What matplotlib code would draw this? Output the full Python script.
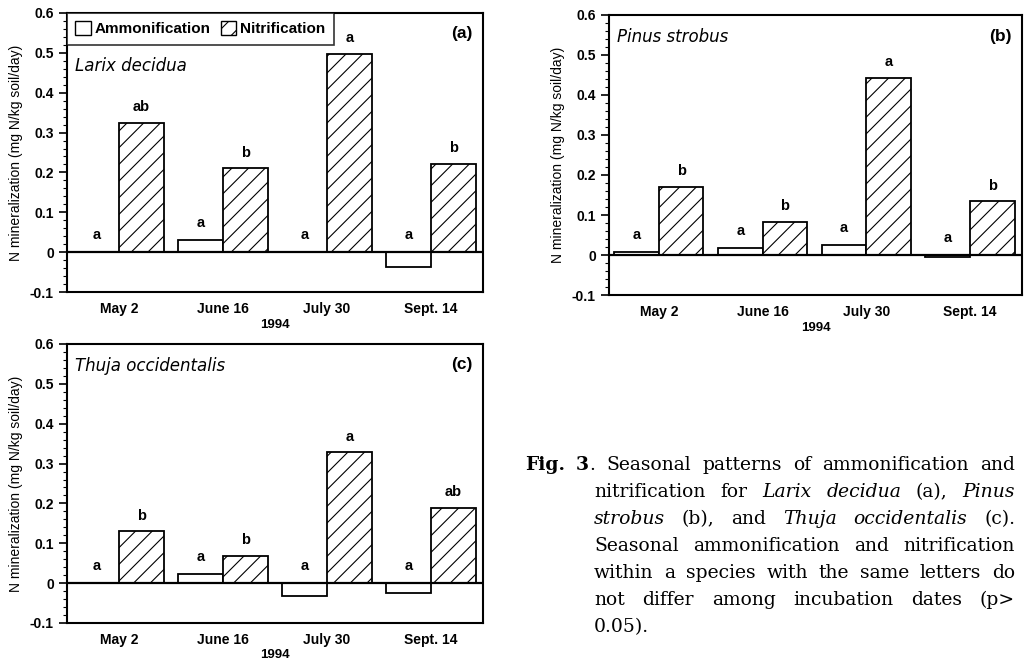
# Seasonal N mineralization (ammonification / nitrification) for three tree species
import matplotlib
matplotlib.use('Agg')
import matplotlib.pyplot as plt
import numpy as np
from matplotlib.patches import Patch
from matplotlib.ticker import MultipleLocator, FuncFormatter

# data
dates = ['May 2', 'June 16', 'July 30', 'Sept. 14']

larix_amm = [0.0, 0.030, 0.0, -0.038]
larix_nit = [0.325, 0.210, 0.498, 0.222]
larix_amm_let = ['a', 'a', 'a', 'a']
larix_nit_let = ['ab', 'b', 'a', 'b']

pinus_amm = [0.008, 0.017, 0.026, -0.005]
pinus_nit = [0.170, 0.082, 0.443, 0.134]
pinus_amm_let = ['a', 'a', 'a', 'a']
pinus_nit_let = ['b', 'b', 'a', 'b']

thuja_amm = [0.0, 0.024, -0.032, -0.025]
thuja_nit = [0.130, 0.069, 0.328, 0.188]
thuja_amm_let = ['a', 'a', 'a', 'a']
thuja_nit_let = ['b', 'b', 'a', 'ab']

species = ['Larix decidua', 'Pinus strobus', 'Thuja occidentalis']
panel_tags = ['(a)', '(b)', '(c)']

plt.rcParams['font.family'] = ['Liberation Sans', 'DejaVu Sans']
plt.rcParams['hatch.linewidth'] = 0.8

W, H = 1024, 666
fig = plt.figure(figsize=(W / 100, H / 100), dpi=100)


def box(x0, y0, x1, y1):
    # pixel box -> figure fraction rect
    return [x0 / W, 1 - y1 / H, (x1 - x0) / W, (y1 - y0) / H]


ax_a = fig.add_axes(box(67, 13, 483, 292))
ax_b = fig.add_axes(box(609, 15, 1022, 295))
ax_c = fig.add_axes(box(67, 344, 483, 623))

bw = 0.43
x = np.arange(len(dates))


def panel(ax, amm, nit, amm_let, nit_let, name, tag, xmin, name_y):
    ax.bar(x - bw / 2, amm, bw, color='white', edgecolor='black', lw=1.3, zorder=2)
    ax.bar(x + bw / 2, nit, bw, color='white', edgecolor='black', hatch='//', lw=1.3, zorder=2)
    ax.axhline(0, color='black', lw=1.6, zorder=3)
    for i in range(len(dates)):
        ax.text(x[i] - bw / 2, max(amm[i], 0) + 0.025, amm_let[i], ha='center', va='bottom',
                fontsize=10.5, fontweight='bold')
        ax.text(x[i] + bw / 2, max(nit[i], 0) + 0.022, nit_let[i], ha='center', va='bottom',
                fontsize=10.5, fontweight='bold')
    ax.set_xlim(xmin, 3.5)
    ax.set_ylim(-0.1, 0.6)
    ax.set_xticks(x)
    ax.set_xticklabels(dates, fontweight='bold', fontsize=10)
    ax.tick_params(axis='x', length=0, pad=7)
    ax.yaxis.set_major_locator(MultipleLocator(0.1))
    ax.yaxis.set_minor_locator(MultipleLocator(0.02))
    ax.yaxis.set_major_formatter(FuncFormatter(lambda v, p: '0' if abs(v) < 1e-9 else f'{v:.1f}'))
    ax.tick_params(axis='y', which='major', direction='out', length=6, width=1.2, labelsize=10)
    ax.tick_params(axis='y', which='minor', direction='out', length=3, width=0.8)
    for lab in ax.get_yticklabels():
        lab.set_fontweight('bold')
    for s in ax.spines.values():
        s.set_linewidth(1.5)
    ax.set_xlabel('1994', fontweight='bold', fontsize=9.5, labelpad=2)
    ax.set_ylabel('N mineralization (mg N/kg soil/day)', fontsize=10, labelpad=5)
    ax.text(0.02, name_y, name, transform=ax.transAxes, fontstyle='italic',
            fontsize=12, family=['DejaVu Sans'], va='center')
    ax.text(0.975, 0.925, tag, transform=ax.transAxes, fontsize=12.5,
            fontweight='bold', ha='right', va='center')


panel(ax_a, larix_amm, larix_nit, larix_amm_let, larix_nit_let, species[0], panel_tags[0], -0.5, 0.81)
panel(ax_b, pinus_amm, pinus_nit, pinus_amm_let, pinus_nit_let, species[1], panel_tags[1], -0.48, 0.92)
panel(ax_c, thuja_amm, thuja_nit, thuja_amm_let, thuja_nit_let, species[2], panel_tags[2], -0.5, 0.92)

handles = [Patch(facecolor='white', edgecolor='black', lw=1.0),
           Patch(facecolor='white', edgecolor='black', hatch='//', lw=1.0)]
leg = ax_a.legend(handles, ['Ammonification', 'Nitrification'], loc='upper left',
                  bbox_to_anchor=(0, 1), borderaxespad=0, ncol=2, fancybox=False,
                  handlelength=1.0, handleheight=1.0, handletextpad=0.25,
                  columnspacing=0.7, borderpad=0.55,
                  prop={'weight': 'bold', 'size': 11})
leg.get_frame().set_edgecolor('black')
leg.get_frame().set_linewidth(1.2)

# caption, justified by hand
cap_lines = [
    [[('Fig.', 'b')], [('3', 'b'), ('.', 'n')], [('Seasonal', 'n')], [('patterns', 'n')],
     [('of', 'n')], [('ammonification', 'n')], [('and', 'n')]],
    [[('nitrification', 'n')], [('for', 'n')], [('Larix', 'i')], [('decidua', 'i')],
     [('(a),', 'n')], [('Pinus', 'i')]],
    [[('strobus', 'i')], [('(b),', 'n')], [('and', 'n')], [('Thuja', 'i')],
     [('occidentalis', 'i')], [('(c).', 'n')]],
    [[('Seasonal', 'n')], [('ammonification', 'n')], [('and', 'n')], [('nitrification', 'n')]],
    [[('within', 'n')], [('a', 'n')], [('species', 'n')], [('with', 'n')], [('the', 'n')],
     [('same', 'n')], [('letters', 'n')], [('do', 'n')]],
    [[('not', 'n')], [('differ', 'n')], [('among', 'n')], [('incubation', 'n')],
     [('dates', 'n')], [('(p>', 'n')]],
    [[('0.05).', 'n')]],
]
cap_x0 = [525, 594, 594, 594, 594, 594, 594]
cap_x1 = 1015
cap_base = 470
cap_step = 27
cap_size = 13.5

renderer = fig.canvas.get_renderer()
styles = {'n': dict(fontweight='normal', fontstyle='normal'),
          'b': dict(fontweight='bold', fontstyle='normal'),
          'i': dict(fontweight='normal', fontstyle='italic')}


def place_run(px, py, s, st):
    t = fig.text(px / W, 1 - py / H, s, family=['DejaVu Serif'], fontsize=cap_size,
                 va='baseline', ha='left', **styles[st])
    return t.get_window_extent(renderer).width


for k, words in enumerate(cap_lines):
    y = cap_base + k * cap_step
    # measure first
    widths = []
    for w in words:
        tot = 0
        for s, st in w:
            t = fig.text(0, 0, s, family=['DejaVu Serif'], fontsize=cap_size, **styles[st])
            tot += t.get_window_extent(renderer).width
            t.remove()
        widths.append(tot)
    last = k == len(cap_lines) - 1
    if len(words) > 1 and not last:
        gap = (cap_x1 - cap_x0[k] - sum(widths)) / (len(words) - 1)
    else:
        gap = 6
    px = cap_x0[k]
    for w, wd in zip(words, widths):
        rx = px
        for s, st in w:
            rx += place_run(rx, y, s, st)
        px += wd + gap

fig.savefig('out.png', dpi=100)
